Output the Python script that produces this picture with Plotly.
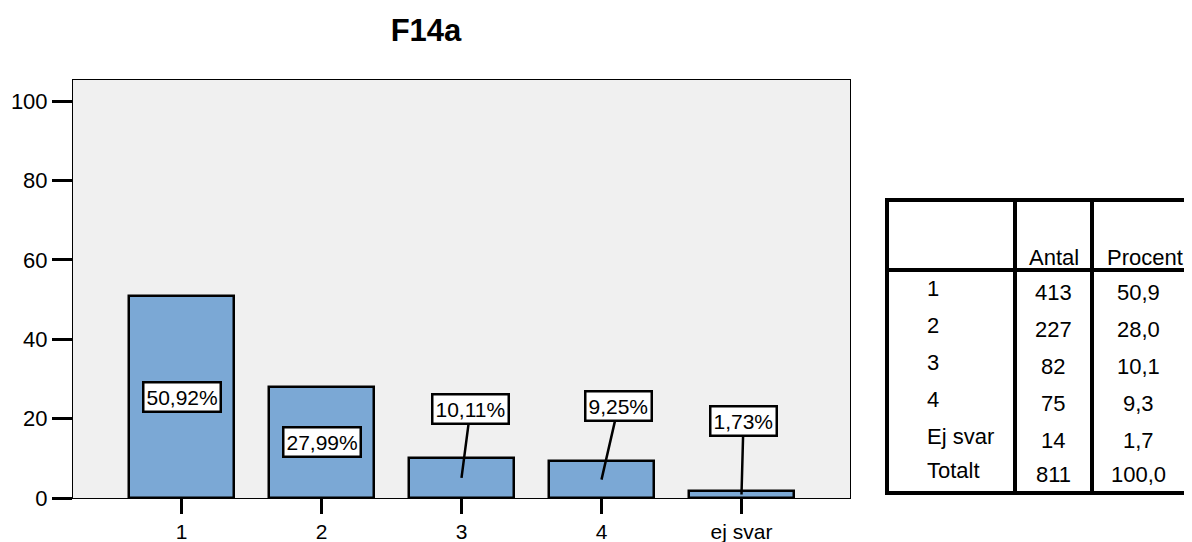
import plotly.graph_objects as go

# ---- data ----
categories = ["1", "2", "3", "4", "ej svar"]
percent_values = [50.92, 27.99, 10.11, 9.25, 1.73]
bar_labels = ["50,92%", "27,99%", "10,11%", "9,25%", "1,73%"]

table_rows = ["1", "2", "3", "4", "Ej svar", "Totalt"]
table_antal = ["413", "227", "82", "75", "14", "811"]
table_procent = ["50,9", "28,0", "10,1", "9,3", "1,7", "100,0"]
table_headers = ["Antal", "Procent"]

y_ticks = [0, 20, 40, 60, 80, 100]

# ---- styling / layout ----
FONT = "Liberation Sans, Arial, sans-serif"
BAR_COLOR = "#7BA8D5"
OFF = 8                      # page body margin
W, H = 1192 - OFF, 542 - OFF
# plot area in reference page pixels
PL, PR, PT, PB = 73, 850, 80, 498
L, T = PL - OFF, PT - OFF
R, B = W - (PR - OFF), H - (PB - OFF)
PW, PH = W - L - R, H - T - B

def px(x):
    return (x - PL) / PW

def py(y):
    return (PB - y) / PH

# label offsets (pixels) for the boxed labels; None = centred in bar
label_offsets = [None, None, (9, -69), (17, -74), (2, -74)]

fig = go.Figure()
fig.add_trace(go.Bar(
    x=categories, y=percent_values, width=0.757,
    marker=dict(color=BAR_COLOR, line=dict(color="black", width=2.5)),
    hoverinfo="skip",
))

annotations = []
for i, (val, lab, off) in enumerate(zip(percent_values, bar_labels, label_offsets)):
    a = dict(x=i, y=val / 2, xref="x", yref="y", text=lab,
             font=dict(family=FONT, size=21, color="black"),
             bgcolor="white", bordercolor="black", borderwidth=2.5, borderpad=2)
    if off is None:
        a.update(showarrow=False)
    else:
        a.update(showarrow=True, arrowhead=0, arrowwidth=2.5, arrowcolor="black",
                 ax=off[0], ay=off[1], axref="pixel", ayref="pixel")
    annotations.append(a)

# ---- table ----
tx0, tx1, ty0, ty1 = 887, 1200, 200, 493
col1, col2 = 1015, 1092
hdr_y = 270
shapes = []
lw = 4
shapes.append(dict(type="rect", xref="paper", yref="paper",
                   x0=px(tx0), x1=px(tx1), y0=py(ty1), y1=py(ty0),
                   line=dict(color="black", width=lw)))
for cx in (col1, col2):
    shapes.append(dict(type="line", xref="paper", yref="paper",
                       x0=px(cx), x1=px(cx), y0=py(ty1), y1=py(ty0),
                       line=dict(color="black", width=lw)))
shapes.append(dict(type="line", xref="paper", yref="paper",
                   x0=px(tx0), x1=px(tx1), y0=py(hdr_y), y1=py(hdr_y),
                   line=dict(color="black", width=lw)))

tfont = dict(family=FONT, size=22, color="black")
annotations.append(dict(x=px((col1 + col2) / 2), y=py(257), xref="paper", yref="paper",
                        text=table_headers[0], showarrow=False, font=tfont,
                        xanchor="center", yanchor="middle"))
annotations.append(dict(x=px(1105), y=py(257), xref="paper", yref="paper",
                        text=table_headers[1], showarrow=False, font=tfont,
                        xanchor="left", yanchor="middle"))
row_y = [288, 325, 362, 399, 436, 470]
for i, (r, a, p) in enumerate(zip(table_rows, table_antal, table_procent)):
    annotations.append(dict(x=px(925), y=py(row_y[i]), xref="paper", yref="paper",
                            text=r, showarrow=False, font=tfont,
                            xanchor="left", yanchor="middle"))
    annotations.append(dict(x=px(1053), y=py(row_y[i] + 4), xref="paper", yref="paper",
                            text=a, showarrow=False, font=tfont,
                            xanchor="center", yanchor="middle"))
    annotations.append(dict(x=px(1138), y=py(row_y[i] + 4), xref="paper", yref="paper",
                            text=p, showarrow=False, font=tfont,
                            xanchor="center", yanchor="middle"))

fig.update_layout(
    width=W, height=H,
    margin=dict(l=L, r=R, t=T, b=B, pad=0, autoexpand=False),
    paper_bgcolor="white", plot_bgcolor="#F0F0F0",
    showlegend=False,
    title=dict(text="<b>F14a</b>", xref="container", yref="container",
               x=(426 - OFF) / W, xanchor="center",
               y=1 - (30 - OFF) / H, yanchor="middle",
               font=dict(family=FONT, size=31, color="black")),
    xaxis=dict(type="category", range=[-0.775, 4.775], showgrid=False, zeroline=False,
               showline=True, linecolor="black", linewidth=1, mirror=True,
               ticks="outside", ticklen=15, tickwidth=3, tickcolor="black",
               tickfont=dict(family=FONT, size=21, color="black"),
               automargin=False, fixedrange=True),
    yaxis=dict(range=[0, 105.3], tickvals=y_ticks, showgrid=False, zeroline=False,
               showline=True, linecolor="black", linewidth=1, mirror=True,
               ticks="outside", ticklen=20, tickwidth=3, tickcolor="black",
               tickfont=dict(family=FONT, size=22, color="black"),
               automargin=False, fixedrange=True),
    annotations=annotations,
    shapes=shapes,
    bargap=0,
)

fig.write_html("out.html")
